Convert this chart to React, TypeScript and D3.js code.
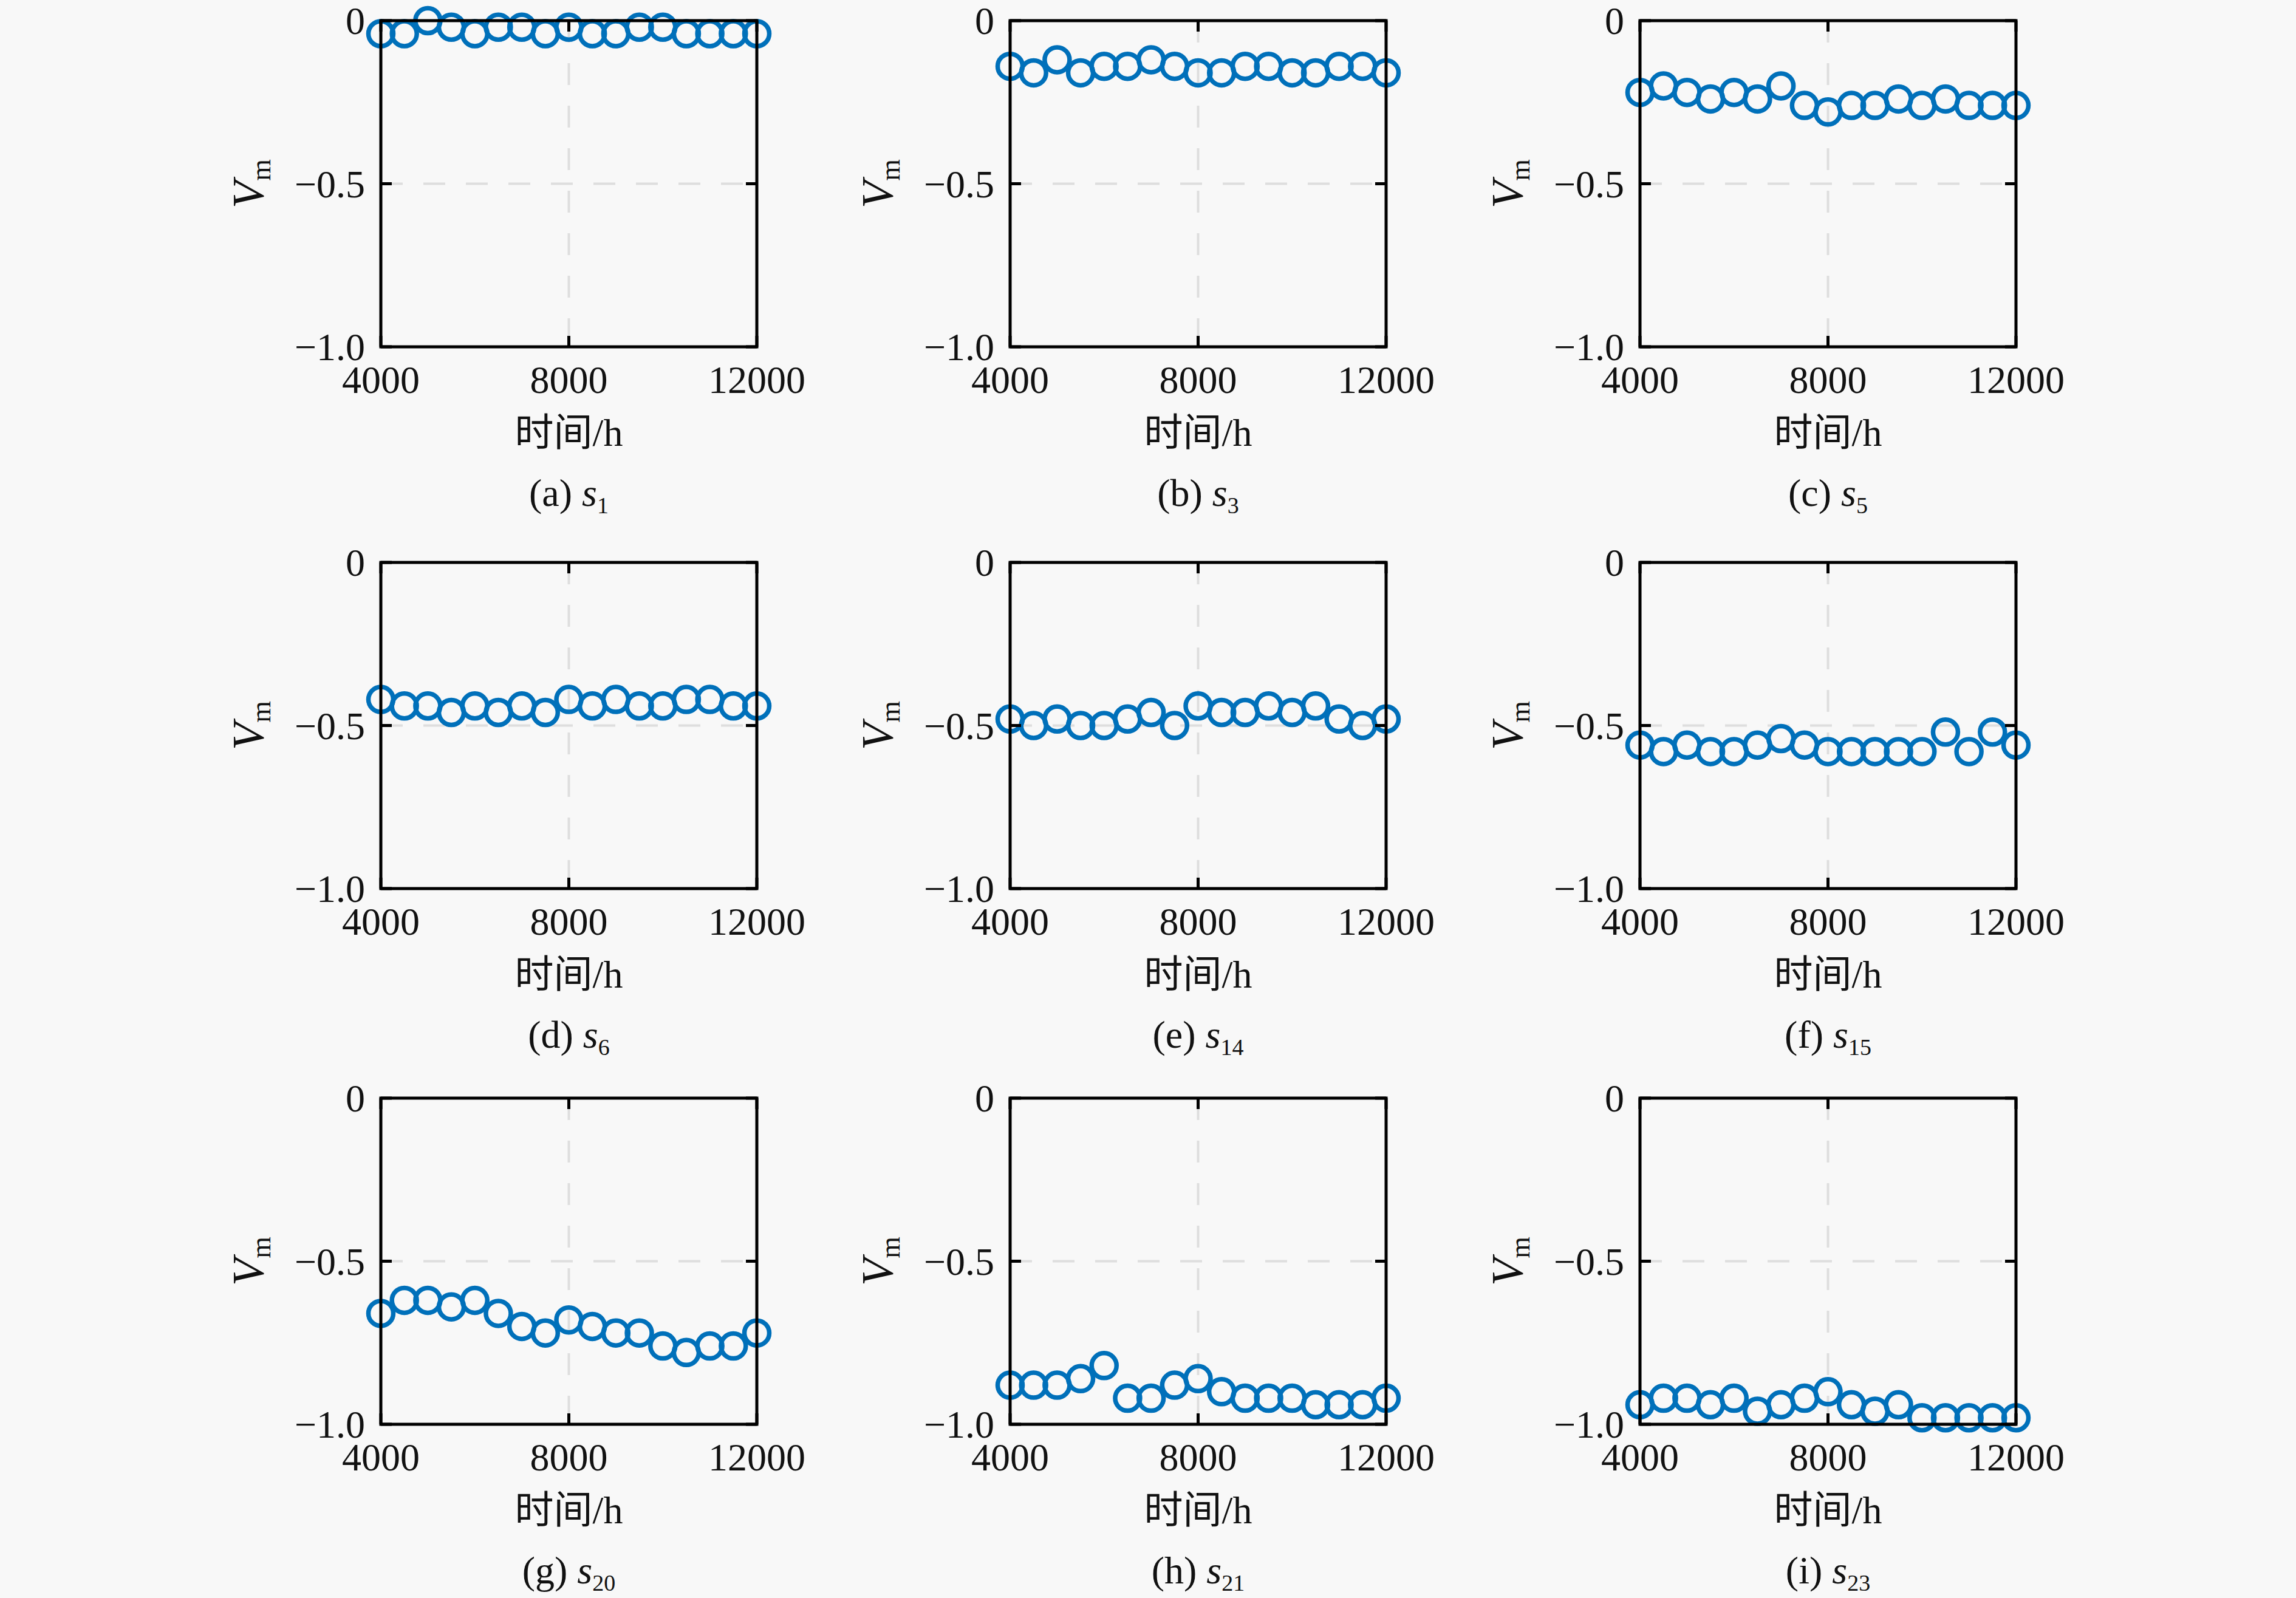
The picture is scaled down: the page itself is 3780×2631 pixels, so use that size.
import { scaleLinear } from "d3";

// time axis (h)
const hours = [
  4000, 4500, 5000, 5500, 6000, 6500, 7000, 7500, 8000,
  8500, 9000, 9500, 10000, 10500, 11000, 11500, 12000,
];

const s1 = [-0.04, -0.04, 0.0, -0.02, -0.04, -0.02, -0.02, -0.04, -0.02, -0.04, -0.04, -0.02, -0.02, -0.04, -0.04, -0.04, -0.04];
const s3 = [-0.14, -0.16, -0.12, -0.16, -0.14, -0.14, -0.12, -0.14, -0.16, -0.16, -0.14, -0.14, -0.16, -0.16, -0.14, -0.14, -0.16];
const s5 = [-0.22, -0.2, -0.22, -0.24, -0.22, -0.24, -0.2, -0.26, -0.28, -0.26, -0.26, -0.24, -0.26, -0.24, -0.26, -0.26, -0.26];
const s6 = [-0.42, -0.44, -0.44, -0.46, -0.44, -0.46, -0.44, -0.46, -0.42, -0.44, -0.42, -0.44, -0.44, -0.42, -0.42, -0.44, -0.44];
const s14 = [-0.48, -0.5, -0.48, -0.5, -0.5, -0.48, -0.46, -0.5, -0.44, -0.46, -0.46, -0.44, -0.46, -0.44, -0.48, -0.5, -0.48];
const s15 = [-0.56, -0.58, -0.56, -0.58, -0.58, -0.56, -0.54, -0.56, -0.58, -0.58, -0.58, -0.58, -0.58, -0.52, -0.58, -0.52, -0.56];
const s20 = [-0.66, -0.62, -0.62, -0.64, -0.62, -0.66, -0.7, -0.72, -0.68, -0.7, -0.72, -0.72, -0.76, -0.78, -0.76, -0.76, -0.72];
const s21 = [-0.88, -0.88, -0.88, -0.86, -0.82, -0.92, -0.92, -0.88, -0.86, -0.9, -0.92, -0.92, -0.92, -0.94, -0.94, -0.94, -0.92];
const s23 = [-0.94, -0.92, -0.92, -0.94, -0.92, -0.96, -0.94, -0.92, -0.9, -0.94, -0.96, -0.94, -0.98, -0.98, -0.98, -0.98, -0.98];

const panelSeries = [s1, s3, s5, s6, s14, s15, s20, s21, s23];
const panelLetters = ["a", "b", "c", "d", "e", "f", "g", "h", "i"];
const sensorIds = ["1", "3", "5", "6", "14", "15", "20", "21", "23"];

const xTicks = [4000, 8000, 12000];
const xTickLabels = ["4000", "8000", "12000"];
const yTicks = [0, -0.5, -1.0];
const yTickLabels = ["0", "\u22120.5", "\u22121.0"];
const xLabel = "时间/h";

const W = 3780;
const H = 2631;
const PLOT_W = 619;
const PLOT_H = 537;
const COL_X = [627, 1663, 2700];
const ROW_Y = [34, 926, 1808];
const BLUE = "#0070BA";
const FONT = "'Liberation Serif', 'Times New Roman', 'Noto Sans CJK SC', serif";
const TICK = 18;

function Panel({ values, letter, sensor, left, top }: {
  values: number[]; letter: string; sensor: string; left: number; top: number;
}) {
  const x = scaleLinear().domain([4000, 12000]).range([0, PLOT_W]);
  const y = scaleLinear().domain([-1, 0]).range([PLOT_H, 0]);

  return (
    <g transform={`translate(${left},${top})`} fontFamily={FONT} fill="#111">
      {/* dashed grid */}
      {xTicks.map((t) => (
        <line key={`gx${t}`} x1={x(t)} x2={x(t)} y1={0} y2={PLOT_H}
          stroke="#dedede" strokeWidth={4} strokeDasharray="36 34" />
      ))}
      {yTicks.map((t) => (
        <line key={`gy${t}`} x1={0} x2={PLOT_W} y1={y(t)} y2={y(t)}
          stroke="#dedede" strokeWidth={4} strokeDasharray="36 34" />
      ))}

      {/* markers */}
      {values.map((v, i) => (
        <circle key={i} cx={x(hours[i])} cy={y(v)} r={20.5}
          fill="none" stroke={BLUE} strokeWidth={7.5} />
      ))}

      {/* box + inward ticks */}
      <rect x={0} y={0} width={PLOT_W} height={PLOT_H} fill="none" stroke="#000" strokeWidth={5} />
      {xTicks.map((t) => (
        <g key={`tx${t}`} stroke="#000" strokeWidth={5}>
          <line x1={x(t)} x2={x(t)} y1={PLOT_H} y2={PLOT_H - TICK} />
          <line x1={x(t)} x2={x(t)} y1={0} y2={TICK} />
        </g>
      ))}
      {yTicks.map((t) => (
        <g key={`ty${t}`} stroke="#000" strokeWidth={5}>
          <line x1={0} x2={TICK} y1={y(t)} y2={y(t)} />
          <line x1={PLOT_W} x2={PLOT_W - TICK} y1={y(t)} y2={y(t)} />
        </g>
      ))}

      {/* tick labels */}
      {yTicks.map((t, i) => (
        <text key={`ly${t}`} x={-26} y={y(t)} dy="0.35em" textAnchor="end" fontSize={64}>
          {yTickLabels[i]}
        </text>
      ))}
      {xTicks.map((t, i) => (
        <text key={`lx${t}`} x={x(t)} y={PLOT_H + 76} textAnchor="middle" fontSize={64}>
          {xTickLabels[i]}
        </text>
      ))}

      {/* axis labels */}
      <text x={PLOT_W / 2} y={PLOT_H + 163} textAnchor="middle" fontSize={64}>{xLabel}</text>
      <text transform={`translate(-193,${PLOT_H / 2}) rotate(-90)`} textAnchor="middle">
        <tspan fontStyle="italic" fontSize={74}>V</tspan>
        <tspan fontSize={46} dy={11}>m</tspan>
      </text>

      {/* caption */}
      <text x={PLOT_W / 2} y={PLOT_H + 262} textAnchor="middle" fontSize={64}>
        <tspan>{`(${letter}) `}</tspan>
        <tspan fontStyle="italic">s</tspan>
        <tspan fontSize={38} dy={12}>{sensor}</tspan>
      </text>
    </g>
  );
}

export default function App() {
  return (
    <div style={{ position: "absolute", left: 0, top: 0 }}>
      <svg width={W} height={H} style={{ display: "block" }}>
        <rect x={0} y={0} width={W} height={H} fill="#f8f8f8" />
        {panelSeries.map((values, i) => (
          <Panel
            key={panelLetters[i]}
            values={values}
            letter={panelLetters[i]}
            sensor={sensorIds[i]}
            left={COL_X[i % 3]}
            top={ROW_Y[Math.floor(i / 3)]}
          />
        ))}
      </svg>
    </div>
  );
}
